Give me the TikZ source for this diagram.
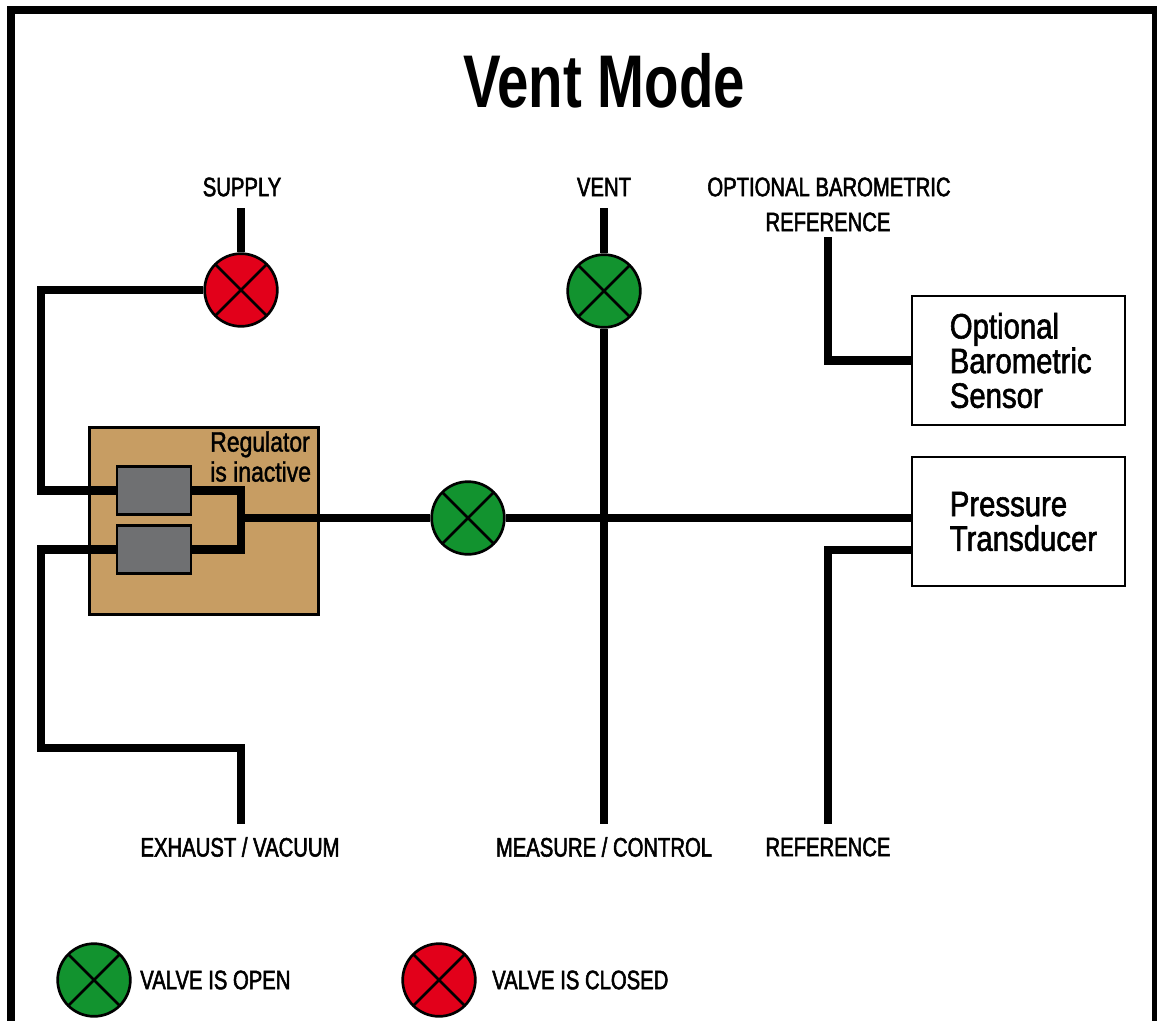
\documentclass[tikz,border=0pt]{standalone}
\usepackage{fontspec}
\setmainfont{Liberation Sans}
\newfontfamily\condfont{Liberation Sans}[FakeStretch=0.76,FakeBold=2]
\newfontfamily\regfont{Liberation Sans}[FakeStretch=0.82,FakeBold=1.4]
\newfontfamily\boxfont{Liberation Sans}[FakeStretch=0.83,FakeBold=1.6]
\newfontfamily\titlefont{Liberation Sans}[FakeStretch=0.755]
\usetikzlibrary{positioning}
\definecolor{OpenGreen}{HTML}{12932F}
\definecolor{ShutRed}{HTML}{E2001A}
\definecolor{RegTan}{HTML}{C79D63}
\definecolor{CoreGray}{HTML}{6F7072}

\begin{document}
\begin{tikzpicture}[
  x=0.75pt,y=-0.75pt,
  frame/.style={line width=6pt,draw=black},
  wire/.style={line width=6.2pt,draw=black},
  valve/.style={circle,draw=black,line width=2pt,minimum size=54.5pt,inner sep=0pt,
    path picture={\draw[line width=2pt] (path picture bounding box.north west) -- (path picture bounding box.south east)
      (path picture bounding box.north east) -- (path picture bounding box.south west);}},
  open/.style={valve,fill=OpenGreen},
  shut/.style={valve,fill=ShutRed},
  tag/.style={font=\condfont\fontsize{20}{24}\selectfont,inner sep=0pt},
  unit/.style={draw=black,line width=1.9pt,fill=white,minimum height=97pt,text width=160pt,inner xsep=0pt,align=left,
    font=\boxfont\fontsize{26.5}{26}\selectfont,execute at begin node={\leftskip=28.5pt}},
  regbox/.style={draw=black,line width=1.9pt,fill=RegTan,minimum width=171.5pt,minimum height=140pt,inner sep=0pt},
  core/.style={draw=black,line width=1.9pt,fill=CoreGray,minimum width=55.5pt,minimum height=36pt,inner sep=0pt}
]
\useasboundingbox (0,0) rectangle (1157,1021);
\draw[frame] (11,1021) |- (1156,10) -- (1156,1021);
\node[font=\titlefont\bfseries\fontsize{56}{60}\selectfont,inner sep=0pt] (title) at (604,81) {Vent Mode};

\node[regbox] (reg) at (204,521) {};
\node[core] (coreA) at (154,490.5) {};
\node[core,below=6.35pt of coreA] (coreB) {};
\node[font=\regfont\fontsize{21}{22.5}\selectfont,align=left,inner sep=0pt,anchor=north west] (regtext) at (210,431) {Regulator\\is inactive};

\node[shut] (vsupply) at (241,290) {};
\node[open] (vvent) at (604,291) {};
\node[open] (vmain) at (468,518) {};

\node[unit] (sensor) at (1018.5,360.5) {Optional\\Barometric\\Sensor};
\node[unit] (trans) at (1018.5,521.5) {Pressure\\Transducer};

\node[tag] (lsupply) at (242,187) {SUPPLY};
\node[tag] (lvent) at (604,187) {VENT};
\node[tag] (lbaro) at (829,187) {OPTIONAL BAROMETRIC};
\node[tag] (lbaroref) at (828,222) {REFERENCE};
\node[tag] (lexhaust) at (240,847) {EXHAUST / VACUUM};
\node[tag] (lmeasure) at (604,847) {MEASURE / CONTROL};
\node[tag] (lref) at (828,847) {REFERENCE};

\coordinate (supplytop) at (241,208);
\coordinate (venttop) at (604,208);
\coordinate (barotop) at (828,237);
\coordinate (exhaustend) at (241,824);
\coordinate (measureend) at (604,824);
\coordinate (refend) at (828,824);
\coordinate (merge) at (241,518);

\draw[wire] (supplytop) -- (vsupply.north);
\draw[wire] (vsupply.west) -| (41,400) |- (coreA.west);
\draw[wire] (coreA.east) -| (merge);
\draw[wire] (coreB.east) -| (merge);
\draw[wire] (coreB.west) -| (41,650) |- (241,748) -- (exhaustend);
\draw[wire] (merge) -- (vmain.west);
\draw[wire] (vmain.east) -- (912,518);
\draw[wire] (venttop) -- (vvent.north);
\draw[wire] (vvent.south) -- (measureend);
\draw[wire] (barotop) |- (sensor.west);
\draw[wire] (refend) |- (912,550);

\node[open] (keyopen) at (94,980) {};
\node[tag,anchor=west] (lopen) at (140,980) {VALVE IS OPEN};
\node[shut] (keyshut) at (439,980) {};
\node[tag,anchor=west] (lshut) at (492,980) {VALVE IS CLOSED};
\end{tikzpicture}
\end{document}
